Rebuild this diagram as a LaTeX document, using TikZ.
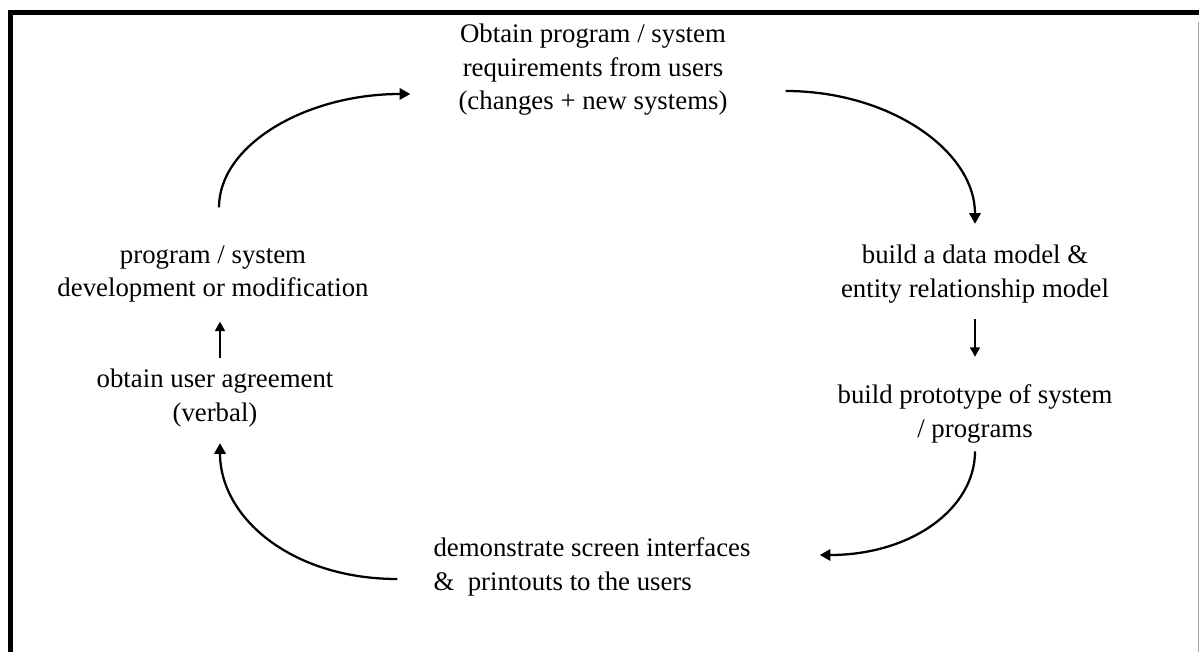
\documentclass[tikz,border=0pt]{standalone}
\usepackage{fontspec}
\setmainfont{Liberation Serif}
\usetikzlibrary{arrows.meta,calc}
\begin{document}
\begin{tikzpicture}[x=0.75pt,y=-0.75pt,
  lbl/.style={inner sep=0pt,align=center,font=\fontsize{20.1}{25.1}\selectfont},
  arr/.style={line width=1.7pt,-{Triangle[length=8pt,width=8.5pt]}},
  varr/.style={line width=1.1pt,-{Triangle[length=7pt,width=7.5pt]}}]
\useasboundingbox (0,0) rectangle (1199,652);
% frame
\draw[line width=3.4pt] (10.5,660) -- (10.5,12.5) -- (1205,12.5);
\draw[gray!70,line width=0.8pt] (1198.5,22) -- (1198.5,652);
% nodes
\node[lbl] (top) at (593,70) {Obtain program / system\\requirements from users\\(changes + new systems)};
\node[lbl] (r1) at (975,274) {build a data model \&\\entity relationship model};
\node[lbl] (r2) at (975,414) {build prototype of system\\/ programs};
\node[lbl,align=left] (bot) at (592,567) {demonstrate screen interfaces\\\&~~printouts to the users};
\node[lbl] (l1) at (213,274) {program / system\\development or modification};
\node[lbl] (l2) at (215,398) {obtain user agreement\\(verbal)};
% connector end points
\coordinate (a1) at ($(l1.north)+(6,-38)$);
\coordinate (a2) at ($(top.west)+(-48,24)$);
\coordinate (b1) at ($(top.east)+(58,21)$);
\coordinate (b2) at ($(r1.north)+(0,-21)$);
\coordinate (d1) at ($(r2.south)+(0,8)$);
\coordinate (d2) at ($(bot.east)+(69,-12)$);
\coordinate (e1) at ($(bot.west)+(-36,12)$);
\coordinate (e2) at ($(l2.south)+(5,16)$);
% connectors
\draw[arr] (a1) .. controls +(0,-62) and +(-105,0) .. (a2);
\draw[arr] (b1) .. controls +(104,0) and +(0,-73) .. (b2);
\draw[varr] ($(r1.south)+(0,16)$) -- ($(r2.north)+(0,-28)$);
\draw[arr] (d1) .. controls +(0,57) and +(92,0) .. (d2);
\draw[arr] (e1) .. controls +(-105,0) and +(0,75) .. (e2);
\draw[varr] ($(l2.north)+(5,-11)$) -- ($(l1.south)+(7,19)$);
\end{tikzpicture}
\end{document}
